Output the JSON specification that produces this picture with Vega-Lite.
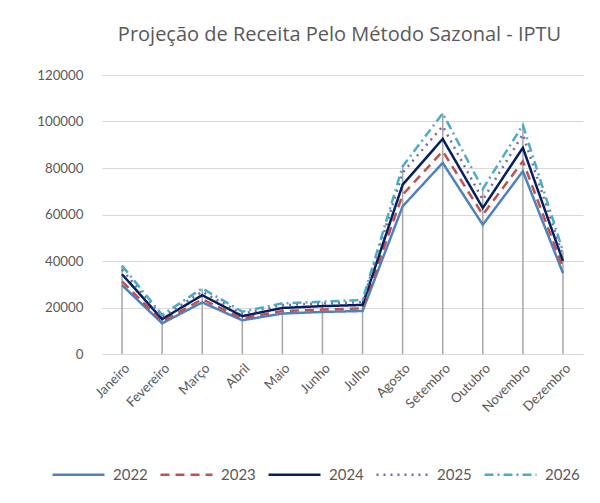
{
  "$schema": "https://vega.github.io/schema/vega-lite/v6.json",
  "width": 481,
  "height": 279,
  "autosize": {"type": "none"},
  "padding": {"left": 102, "top": 75, "right": 17, "bottom": 149},
  "background": "white",
  "title": {
    "text": "Projeção de Receita Pelo Método Sazonal - IPTU",
    "font": "Open Sans",
    "fontSize": 20,
    "fontWeight": "normal",
    "color": "#595959",
    "offset": 23,
    "dx": -3
  },
  "data": {
    "values": [
      {"mes": "Janeiro", "ano": "2022", "valor": 29600},
      {"mes": "Janeiro", "ano": "2023", "valor": 31200},
      {"mes": "Janeiro", "ano": "2024", "valor": 34300},
      {"mes": "Janeiro", "ano": "2025", "valor": 36300},
      {"mes": "Janeiro", "ano": "2026", "valor": 38000},
      {"mes": "Fevereiro", "ano": "2022", "valor": 13200},
      {"mes": "Fevereiro", "ano": "2023", "valor": 14000},
      {"mes": "Fevereiro", "ano": "2024", "valor": 15000},
      {"mes": "Fevereiro", "ano": "2025", "valor": 15900},
      {"mes": "Fevereiro", "ano": "2026", "valor": 16800},
      {"mes": "Março", "ano": "2022", "valor": 22200},
      {"mes": "Março", "ano": "2023", "valor": 23500},
      {"mes": "Março", "ano": "2024", "valor": 25300},
      {"mes": "Março", "ano": "2025", "valor": 26800},
      {"mes": "Março", "ano": "2026", "valor": 28200},
      {"mes": "Abril", "ano": "2022", "valor": 14500},
      {"mes": "Abril", "ano": "2023", "valor": 15300},
      {"mes": "Abril", "ano": "2024", "valor": 16300},
      {"mes": "Abril", "ano": "2025", "valor": 17300},
      {"mes": "Abril", "ano": "2026", "valor": 18200},
      {"mes": "Maio", "ano": "2022", "valor": 17400},
      {"mes": "Maio", "ano": "2023", "valor": 18500},
      {"mes": "Maio", "ano": "2024", "valor": 19800},
      {"mes": "Maio", "ano": "2025", "valor": 21000},
      {"mes": "Maio", "ano": "2026", "valor": 21800},
      {"mes": "Junho", "ano": "2022", "valor": 18100},
      {"mes": "Junho", "ano": "2023", "valor": 19100},
      {"mes": "Junho", "ano": "2024", "valor": 20600},
      {"mes": "Junho", "ano": "2025", "valor": 21700},
      {"mes": "Junho", "ano": "2026", "valor": 22500},
      {"mes": "Julho", "ano": "2022", "valor": 18500},
      {"mes": "Julho", "ano": "2023", "valor": 19600},
      {"mes": "Julho", "ano": "2024", "valor": 21100},
      {"mes": "Julho", "ano": "2025", "valor": 22300},
      {"mes": "Julho", "ano": "2026", "valor": 23200},
      {"mes": "Agosto", "ano": "2022", "valor": 63500},
      {"mes": "Agosto", "ano": "2023", "valor": 68500},
      {"mes": "Agosto", "ano": "2024", "valor": 72800},
      {"mes": "Agosto", "ano": "2025", "valor": 78000},
      {"mes": "Agosto", "ano": "2026", "valor": 80700},
      {"mes": "Setembro", "ano": "2022", "valor": 82200},
      {"mes": "Setembro", "ano": "2023", "valor": 87200},
      {"mes": "Setembro", "ano": "2024", "valor": 92500},
      {"mes": "Setembro", "ano": "2025", "valor": 98000},
      {"mes": "Setembro", "ano": "2026", "valor": 103500},
      {"mes": "Outubro", "ano": "2022", "valor": 55600},
      {"mes": "Outubro", "ano": "2023", "valor": 59900},
      {"mes": "Outubro", "ano": "2024", "valor": 62800},
      {"mes": "Outubro", "ano": "2025", "valor": 66300},
      {"mes": "Outubro", "ano": "2026", "valor": 71000},
      {"mes": "Novembro", "ano": "2022", "valor": 78600},
      {"mes": "Novembro", "ano": "2023", "valor": 82900},
      {"mes": "Novembro", "ano": "2024", "valor": 88700},
      {"mes": "Novembro", "ano": "2025", "valor": 94500},
      {"mes": "Novembro", "ano": "2026", "valor": 98500},
      {"mes": "Dezembro", "ano": "2022", "valor": 34800},
      {"mes": "Dezembro", "ano": "2023", "valor": 37200},
      {"mes": "Dezembro", "ano": "2024", "valor": 40000},
      {"mes": "Dezembro", "ano": "2025", "valor": 42200},
      {"mes": "Dezembro", "ano": "2026", "valor": 44200}
    ]
  },
  "encoding": {
    "x": {
      "field": "mes",
      "type": "ordinal",
      "sort": ["Janeiro", "Fevereiro", "Março", "Abril", "Maio", "Junho", "Julho", "Agosto", "Setembro", "Outubro", "Novembro", "Dezembro"],
      "scale": {"type": "point", "padding": 0.5},
      "axis": {
        "title": null,
        "labelAngle": -45,
        "labelColor": "#595959",
        "labelFont": "Lato",
        "labelFontSize": 13.3,
        "labelPadding": 7,
        "ticks": false,
        "grid": false,
        "domainColor": "#D9D9D9",
        "domainWidth": 1
      }
    }
  },
  "layer": [
    {
      "mark": {"type": "rule", "color": "#A6A6A6", "strokeWidth": 1.5},
      "encoding": {
        "y": {"aggregate": "max", "field": "valor", "type": "quantitative"},
        "y2": {"datum": 0}
      }
    },
    {
      "mark": {"type": "line"},
      "encoding": {
        "y": {
          "field": "valor",
          "type": "quantitative",
          "scale": {"domain": [0, 120000], "nice": false},
          "axis": {
            "title": null,
            "values": [0, 20000, 40000, 60000, 80000, 100000, 120000],
            "format": "d",
            "domain": false,
            "ticks": false,
            "gridColor": "#D9D9D9",
            "gridWidth": 1,
            "labelColor": "#595959",
            "labelFont": "Lato",
            "labelFontSize": 13.3,
            "labelPadding": 19
          }
        },
        "color": {
          "field": "ano",
          "type": "nominal",
          "scale": {
            "domain": ["2022", "2023", "2024", "2025", "2026"],
            "range": ["#4F81BD", "#C0504D", "#002060", "#8064A2", "#4BACC6"]
          },
          "legend": {
            "title": null,
            "orient": "none",
            "direction": "horizontal",
            "legendX": -51,
            "legendY": 372,
            "symbolType": "stroke",
            "symbolSize": 2704,
            "labelOffset": 7,
            "columnPadding": 7,
            "labelFont": "Lato",
            "labelFontSize": 15,
            "labelColor": "#595959"
          }
        },
        "strokeDash": {
          "field": "ano",
          "type": "nominal",
          "scale": {
            "domain": ["2022", "2023", "2024", "2025", "2026"],
            "range": [[1, 0], [9, 6], [1, 0], [2, 5], [9, 4, 2, 4]]
          },
          "legend": {
            "title": null,
            "orient": "none",
            "direction": "horizontal",
            "legendX": -51,
            "legendY": 372,
            "symbolType": "stroke",
            "symbolSize": 2704,
            "labelOffset": 7,
            "columnPadding": 7,
            "labelFont": "Lato",
            "labelFontSize": 15,
            "labelColor": "#595959"
          }
        },
        "strokeWidth": {
          "field": "ano",
          "type": "nominal",
          "scale": {
            "domain": ["2022", "2023", "2024", "2025", "2026"],
            "range": [2.5, 2.5, 3, 2.5, 2.5]
          },
          "legend": {
            "title": null,
            "orient": "none",
            "direction": "horizontal",
            "legendX": -51,
            "legendY": 372,
            "symbolType": "stroke",
            "symbolSize": 2704,
            "labelOffset": 7,
            "columnPadding": 7,
            "labelFont": "Lato",
            "labelFontSize": 15,
            "labelColor": "#595959"
          }
        }
      }
    }
  ],
  "config": {
    "view": {"stroke": null}
  }
}
